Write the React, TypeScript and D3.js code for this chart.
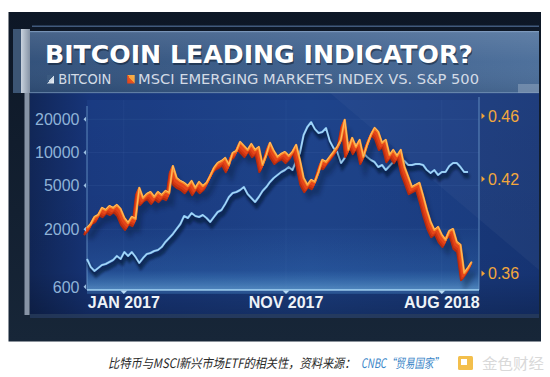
import React, { useLayoutEffect, useRef } from 'react';
import * as d3 from 'd3';

const dates = [
  "2016-10-24","2016-10-31","2016-11-07","2016-11-14","2016-11-21","2016-11-28","2016-12-05","2016-12-12","2016-12-19","2016-12-26",
  "2017-01-02","2017-01-09","2017-01-16","2017-01-23","2017-01-30","2017-02-06","2017-02-13","2017-02-20","2017-02-27","2017-03-06",
  "2017-03-13","2017-03-20","2017-03-27","2017-04-03","2017-04-10","2017-04-17","2017-04-24","2017-05-01","2017-05-08","2017-05-15",
  "2017-05-22","2017-05-29","2017-06-05","2017-06-12","2017-06-19","2017-06-26","2017-07-03","2017-07-10","2017-07-17","2017-07-24",
  "2017-07-31","2017-08-07","2017-08-14","2017-08-21","2017-08-28","2017-09-04","2017-09-11","2017-09-18","2017-09-25","2017-10-02",
  "2017-10-09","2017-10-16","2017-10-23","2017-10-30","2017-11-06","2017-11-13","2017-11-20","2017-11-27","2017-12-04","2017-12-11",
  "2017-12-18","2017-12-25","2018-01-01","2018-01-08","2018-01-15","2018-01-22","2018-01-29","2018-02-05","2018-02-12","2018-02-19",
  "2018-02-26","2018-03-05","2018-03-12","2018-03-19","2018-03-26","2018-04-02","2018-04-09","2018-04-16","2018-04-23","2018-04-30",
  "2018-05-07","2018-05-14","2018-05-21","2018-05-28","2018-06-04","2018-06-11","2018-06-18","2018-06-25","2018-07-02","2018-07-09",
  "2018-07-16","2018-07-23","2018-07-30","2018-08-06","2018-08-13","2018-08-20","2018-08-27","2018-09-03","2018-09-10","2018-09-17",
  "2018-09-24","2018-10-01","2018-10-08","2018-10-15"
];

// Bitcoin price (USD, log axis, left)
const bitcoin = [
  1074,908,836,889,947,967,1009,1052,1144,1074,
  1243,1144,1243,1120,988,1096,1192,1218,1270,1297,
  1380,1533,1667,1813,2013,2234,2642,2533,2812,2642,
  2587,2698,2533,2330,2587,2872,2995,3396,3932,4276,
  4365,4552,4847,4187,3850,3541,3932,4458,4847,5383,
  5853,6232,6634,6918,7367,6918,8354,9876,14395,17022,
  18899,16323,15011,15329,16670,12700,10965,10085,8011,8896,
  12175,10965,11925,10517,9876,9082,8531,8176,7367,7683,
  6918,7524,8176,8896,8896,8354,7683,7683,7846,7846,
  7683,6918,6497,6918,6232,6634,6634,7524,8011,8011,
  7367,6634,6634
];

// MSCI Emerging Markets index vs. S&P 500 ratio (right axis)
const msciVsSp = [
  0.3889,0.3914,0.3959,0.3971,0.4016,0.4003,0.4028,0.4016,0.4035,0.4009,
  0.3952,0.3921,0.3959,0.3946,0.4143,0.4079,0.4105,0.4117,0.4086,0.4117,
  0.4098,0.4124,0.4111,0.4282,0.4206,0.4187,0.4175,0.4155,0.4187,0.4143,
  0.4181,0.4155,0.4175,0.4219,0.4270,0.4302,0.4314,0.4333,0.4289,0.4365,
  0.4378,0.4435,0.4409,0.4384,0.4422,0.4384,0.4403,0.4289,0.4352,0.4429,
  0.4378,0.4340,0.4359,0.4371,0.4346,0.4371,0.4416,0.4321,0.4206,0.4162,
  0.4194,0.4181,0.4244,0.4321,0.4308,0.4340,0.4371,0.4403,0.4448,0.4575,
  0.4384,0.4460,0.4403,0.4448,0.4340,0.4416,0.4479,0.4524,0.4498,0.4429,
  0.4448,0.4352,0.4384,0.4346,0.4384,0.4276,0.4213,0.4149,0.4162,0.4175,
  0.4092,0.4003,0.3927,0.3876,0.3895,0.3844,0.3813,0.3870,0.3882,0.3800,
  0.3781,0.3603,0.3635,0.3673
];

const leftTicks = [600, 2000, 5000, 10000, 20000];
const rightTicks = [0.36, 0.42, 0.46];
const xTickDates = ["2017-01-01", "2017-11-01", "2018-08-20"];
const xTickLabels = ["JAN 2017", "NOV 2017", "AUG 2018"];

const title = "BITCOIN LEADING INDICATOR?";
const legendLabels = ["BITCOIN", "MSCI EMERGING MARKETS INDEX VS. S&P 500"];
const captionMain = "比特币与MSCI新兴市场ETF的相关性，资料来源：";
const captionSource = "CNBC“贸易国家”";
const watermark = "金色财经";

// Text squeezed horizontally to a target width (measured after layout)
function FitText(props: {
  x: number; y: number; width: number; children: string;
  fontFamily: string; fontSize: number; fill: string; fontStyle?: string; fontWeight?: string;
}) {
  const ref = useRef<SVGTextElement>(null);
  useLayoutEffect(() => {
    const el = ref.current;
    if (!el) return;
    const w = el.getComputedTextLength();
    const s = w > 0 ? props.width / w : 1;
    el.setAttribute('transform', `translate(${props.x},${props.y}) scale(${s},1)`);
  });
  return (
    <text ref={ref} x={0} y={0} transform={`translate(${props.x},${props.y})`}
      fontFamily={props.fontFamily} fontSize={props.fontSize} fill={props.fill}
      fontStyle={props.fontStyle} fontWeight={props.fontWeight}>{props.children}</text>
  );
}

export default function App() {
  const parse = d3.timeParse('%Y-%m-%d');
  const D = dates.map((s) => parse(s) as Date);

  const x = d3.scaleTime().domain([D[0], D[D.length - 1]]).range([87, 471.7]);
  const yL = d3.scaleLog().domain([600, 20000]).range([286.8, 119.3]);
  const yR = d3.scaleLinear().domain([0.36, 0.46]).range([273.5, 116]);

  const btcPath = d3.line<number>().x((_, i) => x(D[i])).y((v) => yL(v))(bitcoin) as string;
  const msciPath = d3.line<number>().x((_, i) => x(D[i])).y((v) => yR(v))(msciVsSp) as string;

  const sans = "'Liberation Sans', Arial, sans-serif";
  const cjk = "'Noto Sans CJK SC', sans-serif";
  const plotL = 87, plotR = 479, plotT = 100, plotB = 290;

  const extrude = [7, 6, 5, 4, 3, 2, 1];

  return (
    <svg width={550} height={377} style={{ position: 'absolute', left: 0, top: 0, display: 'block', background: '#ffffff' }}>
      <defs>
        <filter id="blur2" x="-10%" y="-10%" width="120%" height="130%">
          <feGaussianBlur stdDeviation="2" />
        </filter>
        <filter id="blur1" x="-10%" y="-10%" width="120%" height="130%">
          <feGaussianBlur stdDeviation="1" />
        </filter>
        <linearGradient id="panelG" x1="0" y1="0" x2="1" y2="0">
          <stop offset="0" stopColor="#112758" />
          <stop offset="0.12" stopColor="#17357a" />
          <stop offset="0.55" stopColor="#1c4086" />
          <stop offset="1" stopColor="#173678" />
        </linearGradient>
        <linearGradient id="panelV" x1="0" y1="0" x2="0" y2="1">
          <stop offset="0" stopColor="#000" stopOpacity="0" />
          <stop offset="0.8" stopColor="#000" stopOpacity="0.05" />
          <stop offset="1" stopColor="#000" stopOpacity="0.25" />
        </linearGradient>
        <linearGradient id="titleG" x1="0" y1="0" x2="1" y2="0">
          <stop offset="0" stopColor="#2f4e78" />
          <stop offset="0.5" stopColor="#3b5d8a" />
          <stop offset="1" stopColor="#4b6e9a" />
        </linearGradient>
        <linearGradient id="titleV" x1="0" y1="0" x2="0" y2="1">
          <stop offset="0" stopColor="#ffffff" stopOpacity="0.12" />
          <stop offset="0.5" stopColor="#ffffff" stopOpacity="0.02" />
          <stop offset="1" stopColor="#000000" stopOpacity="0.08" />
        </linearGradient>
        <linearGradient id="glowG" x1="0" y1="0" x2="0" y2="1">
          <stop offset="0" stopColor="#4aa0e8" stopOpacity="0" />
          <stop offset="0.7" stopColor="#4aa0e8" stopOpacity="0.18" />
          <stop offset="1" stopColor="#7cc4f4" stopOpacity="0.55" />
        </linearGradient>
        <linearGradient id="frameG" x1="0" y1="0" x2="0" y2="1">
          <stop offset="0" stopColor="#0d1726" />
          <stop offset="1" stopColor="#172638" />
        </linearGradient>
        <linearGradient id="barG" x1="0" y1="0" x2="1" y2="0">
          <stop offset="0" stopColor="#c9d3de" />
          <stop offset="1" stopColor="#8593a5" />
        </linearGradient>
        <linearGradient id="iconBtc" x1="0" y1="0" x2="1" y2="1">
          <stop offset="0" stopColor="#3b5a80" />
          <stop offset="0.5" stopColor="#3b5a80" />
          <stop offset="0.5" stopColor="#c8d4e2" />
          <stop offset="1" stopColor="#eef2f7" />
        </linearGradient>
        <linearGradient id="iconMsci" x1="0" y1="1" x2="1" y2="0">
          <stop offset="0" stopColor="#e0401c" />
          <stop offset="0.5" stopColor="#e8561f" />
          <stop offset="0.5" stopColor="#f7a13a" />
          <stop offset="1" stopColor="#f9b451" />
        </linearGradient>
        <clipPath id="plotClip">
          <rect x={30} y={93} width={509} height={225} />
        </clipPath>
      </defs>

      {/* outer dark frame */}
      <rect x={8.5} y={12} width={532.5} height={329.5} fill="url(#frameG)" />
      <rect x={32} y={25.5} width={507} height={1.5} fill="#4f6c93" opacity={0.8} />

      {/* plot panel */}
      <rect x={30} y={93} width={509} height={225} fill="url(#panelG)" />
      <rect x={30} y={93} width={509} height={225} fill="url(#panelV)" />
      <polygon points="330,93 539,93 539,270" fill="#ffffff" opacity={0.035} />
      <rect x={plotL} y={plotT} width={plotR - plotL} height={plotB - plotT} fill="#2a58a8" opacity={0.18} />
      <rect x={plotL} y={225} width={plotR - plotL} height={plotB - 225} fill="url(#glowG)" />
      <rect x={30} y={314} width={509} height={4} fill="#2b3f5c" opacity={0.7} />

      {/* faint grid */}
      {leftTicks.map((t) => (
        <line key={'g' + t} x1={plotL} x2={plotR} y1={yL(t)} y2={yL(t)} stroke="#6f97d0" strokeOpacity={0.1} />
      ))}
      {xTickDates.map((s) => {
        const xx = x(parse(s) as Date);
        return <line key={'gv' + s} x1={xx} x2={xx} y1={plotT} y2={plotB} stroke="#6f97d0" strokeOpacity={0.08} />;
      })}

      {/* title band */}
      <rect x={13} y={31} width={526} height={62} fill="url(#titleG)" />
      <rect x={13} y={31} width={526} height={62} fill="url(#titleV)" />
      <rect x={30} y={31} width={509} height={1.2} fill="#8aa5c8" opacity={0.7} />
      <rect x={30} y={92} width={509} height={1.2} fill="#7f9cc2" opacity={0.6} />
      <rect x={518} y={84} width={21} height={9} fill="#8aa0bb" opacity={0.6} />
      <rect x={21} y={29} width={9} height={64} fill="url(#barG)" />
      <rect x={24.5} y={93} width={5} height={222} fill="#8794a5" />
      <rect x={13} y={29} width={8} height={64} fill="#3c5574" />

      {/* title text */}
      <text x={46} y={64.5} fontFamily="'DejaVu Sans', sans-serif" fontWeight="bold" fontSize={24}
        fill="#0d1a2c" opacity={0.5} textLength={428} lengthAdjust="spacingAndGlyphs">{title}</text>
      <text x={45} y={63.3} fontFamily="'DejaVu Sans', sans-serif" fontWeight="bold" fontSize={24}
        fill="#ffffff" textLength={428} lengthAdjust="spacingAndGlyphs">{title}</text>

      {/* legend */}
      <rect x={47} y={75} width={7} height={8.5} fill="url(#iconBtc)" />
      <text x={58.3} y={84} fontFamily="'DejaVu Sans', sans-serif" fontSize={14} fill="#d3dbe6"
        textLength={53} lengthAdjust="spacingAndGlyphs">{legendLabels[0]}</text>
      <rect x={127.2} y={75} width={7.5} height={8.5} fill="url(#iconMsci)" />
      <text x={138} y={84} fontFamily="'DejaVu Sans', sans-serif" fontSize={14} fill="#d3dbe6"
        textLength={341} lengthAdjust="spacingAndGlyphs">{legendLabels[1]}</text>

      {/* axes lines */}
      <line x1={plotL} x2={plotL} y1={plotT + 6} y2={plotB} stroke="#6f9ccd" strokeWidth={1} opacity={0.8} />
      <line x1={plotR} x2={plotR} y1={plotT - 3} y2={plotB} stroke="#6f9ccd" strokeWidth={1} opacity={0.8} />

      <g clipPath="url(#plotClip)">
        {/* bitcoin line */}
        <path d={btcPath} fill="none" stroke="#06122e" strokeWidth={4} opacity={0.55}
          transform="translate(1.5,4.5)" filter="url(#blur1)" />
        <path d={btcPath} fill="none" stroke="#0d2454" strokeWidth={2.5} opacity={0.75}
          transform="translate(0.5,2.5)" strokeLinejoin="round" />
        <path d={btcPath} fill="none" stroke="#80c0ef" strokeWidth={2.1} strokeLinejoin="round" />
        <path d={btcPath} fill="none" stroke="#d6eeff" strokeWidth={0.7} strokeLinejoin="round" opacity={0.8} />

        {/* msci line with extruded ribbon */}
        <path d={msciPath} fill="none" stroke="#050d22" strokeWidth={6} opacity={0.3}
          transform="translate(2,10)" filter="url(#blur2)" />
        {extrude.map((k) => (
          <path key={'e' + k} d={msciPath} fill="none"
            stroke={k > 5 ? '#b52b0f' : k > 3 ? '#d23814' : '#e6481b'}
            strokeWidth={2.2} strokeLinejoin="round" transform={`translate(${-0.45 * k},${k})`} />
        ))}
        <path d={msciPath} fill="none" stroke="#f98f2c" strokeWidth={2.3} strokeLinejoin="round" />
        <path d={msciPath} fill="none" stroke="#ffc469" strokeWidth={0.9} strokeLinejoin="round"
          transform="translate(0,-0.6)" />
      </g>

      {/* bottom axis line */}
      <line x1={plotL} x2={plotR} y1={plotB} y2={plotB} stroke="#a6d6f6" strokeWidth={1.6} />
      <rect x={plotL} y={plotB + 0.8} width={plotR - plotL} height={3} fill="#4d8fd0" opacity={0.35} />

      {/* left ticks */}
      {leftTicks.map((t) => (
        <g key={'l' + t}>
          <polygon points={`${plotL - 1},${yL(t) - 2.5} ${plotL - 1},${yL(t) + 2.5} ${plotL - 3.5},${yL(t)}`} fill="#9cc0e2" />
          <text x={79.5} y={yL(t)} dy="0.36em" textAnchor="end" fontFamily={sans} fontSize={16} fill="#8fb3d8">{t}</text>
        </g>
      ))}

      {/* right ticks */}
      {rightTicks.map((t) => (
        <g key={'r' + t}>
          <polygon points={`${plotR + 2.5},${yR(t) - 3} ${plotR + 2.5},${yR(t) + 3} ${plotR + 6},${yR(t)}`} fill="#f2a33a" />
          <text x={488} y={yR(t)} dy="0.36em" fontFamily={sans} fontSize={16} fill="#f3a83c">{t.toFixed(2)}</text>
        </g>
      ))}

      {/* bottom ticks */}
      {xTickDates.map((s, i) => {
        const xx = x(parse(s) as Date);
        return (
          <g key={'b' + s}>
            <polygon points={`${xx - 3.5},${plotB + 0.5} ${xx + 3.5},${plotB + 0.5} ${xx},${plotB + 4}`} fill="#b9dcf5" />
            <text x={xx} y={308.3} textAnchor="middle" fontFamily={sans} fontWeight="bold" fontSize={16} fill="#eef3f8">{xTickLabels[i]}</text>
          </g>
        );
      })}

      {/* caption */}
      <FitText x={108} y={368} width={248} fontFamily={cjk} fontStyle="italic" fontSize={13} fill="#2a2a2a">{captionMain}</FitText>
      <FitText x={361} y={368} width={82} fontFamily={cjk} fontStyle="italic" fontSize={13} fill="#3a86c8">{captionSource}</FitText>

      {/* watermark */}
      <rect x={458} y={356} width={15} height={14} rx={1.5} fill="#f3bf4c" />
      <rect x={461} y={359} width={6} height={6} fill="#ffffff" />
      <FitText x={482} y={369} width={62} fontFamily={cjk} fontSize={15} fill="#d9d9d9">{watermark}</FitText>
    </svg>
  );
}
